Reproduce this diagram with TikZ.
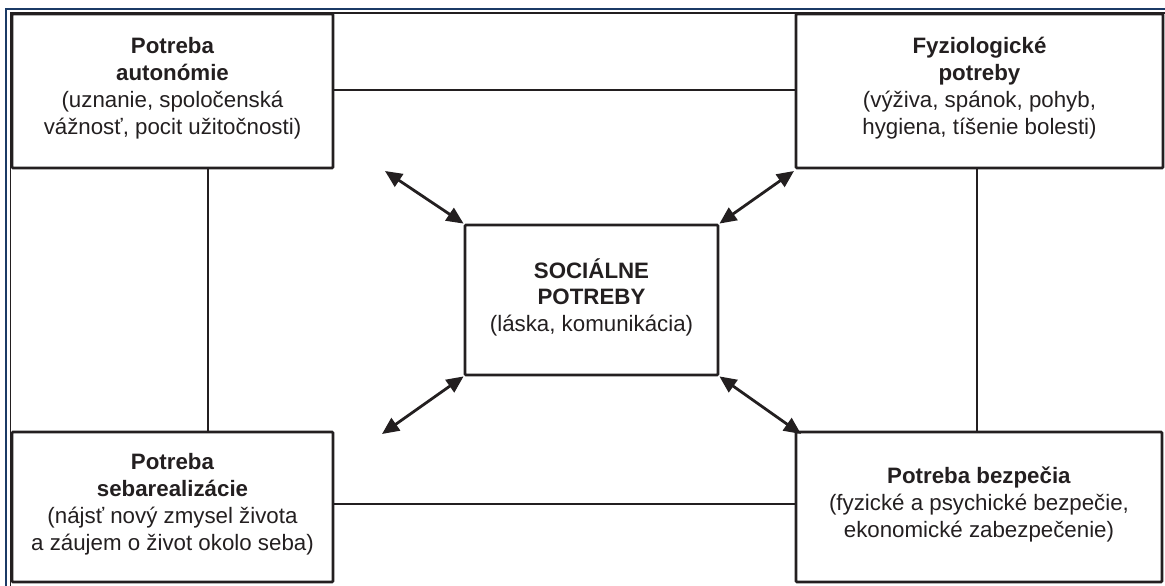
\documentclass[tikz,border=0pt]{standalone}
\usepackage{fontspec}
\setmainfont{Liberation Sans}
\usetikzlibrary{arrows.meta}
\definecolor{ink}{HTML}{231F20}
\definecolor{rule}{HTML}{1B3A66}
\tikzset{
  need/.style={draw=ink, line width=2.8pt, rounded corners=1pt, align=center,
    text=ink, text depth=10pt, font=\fontsize{22.3}{26.8}\selectfont},
  link/.style={draw=ink, line width=2.2pt},
  both/.style={link, line width=2.8pt, {Triangle[length=17pt,width=15pt]}-{Triangle[length=17pt,width=15pt]}}
}
\begin{document}
\begin{tikzpicture}[x=1pt, y=-1pt]
	\useasboundingbox (0,0) rectangle (1165,586);
	% page frame
	\draw [rule, line width=2pt] (6,586) -- (6,9) -- (1165,9);
	\draw [ink, line width=1.2pt] (10.5,586) -- (10.5,13) -- (1165,13);
	% needs
	\node (A) [need, minimum width=321pt, minimum height=154pt] at (172.5,91)
		{\textbf{Potreba}\\ \textbf{autonómie}\\ (uznanie, spoločenská\\ vážnosť, pocit užitočnosti)};
	\node (F) [need, minimum width=367pt, minimum height=154pt] at (979.5,91)
		{\textbf{Fyziologické}\\ \textbf{potreby}\\ (výživa, spánok, pohyb,\\ hygiena, tíšenie bolesti)};
	\node (S) [need, minimum width=253pt, minimum height=150pt] at (591.5,300)
		{\textbf{SOCIÁLNE}\\ \textbf{POTREBY}\\ (láska, komunikácia)};
	\node (R) [need, minimum width=321pt, minimum height=150pt] at (172.5,507)
		{\textbf{Potreba}\\ \textbf{sebarealizácie}\\ (nájsť nový zmysel života\\ a záujem o život okolo seba)};
	\node (B) [need, minimum width=366pt, minimum height=150pt] at (979,507)
		{\textbf{Potreba bezpečia}\\ (fyzické a psychické bezpečie,\\ ekonomické zabezpečenie)};
	% ends of the arrows
	\coordinate (a) at (385,171);
	\coordinate (f) at (794,171);
	\coordinate (r) at (382,434);
	\coordinate (b) at (801,434);
	\draw [link] ([yshift=1pt]A.east) -- ([yshift=1pt]F.west);
	\draw [link] ([yshift=3pt]R.east) -- ([yshift=3pt]B.west);
	\draw [link] ([xshift=35.5pt]A.south) -- ([xshift=35.5pt]R.north);
	\draw [link] ([xshift=-2.5pt]F.south) -- ([xshift=-2pt]B.north);
	\draw [both] (a) -- (S.north west);
	\draw [both] (f) -- (S.north east);
	\draw [both] (r) -- (S.south west);
	\draw [both] (b) -- (S.south east);
\end{tikzpicture}
\end{document}
